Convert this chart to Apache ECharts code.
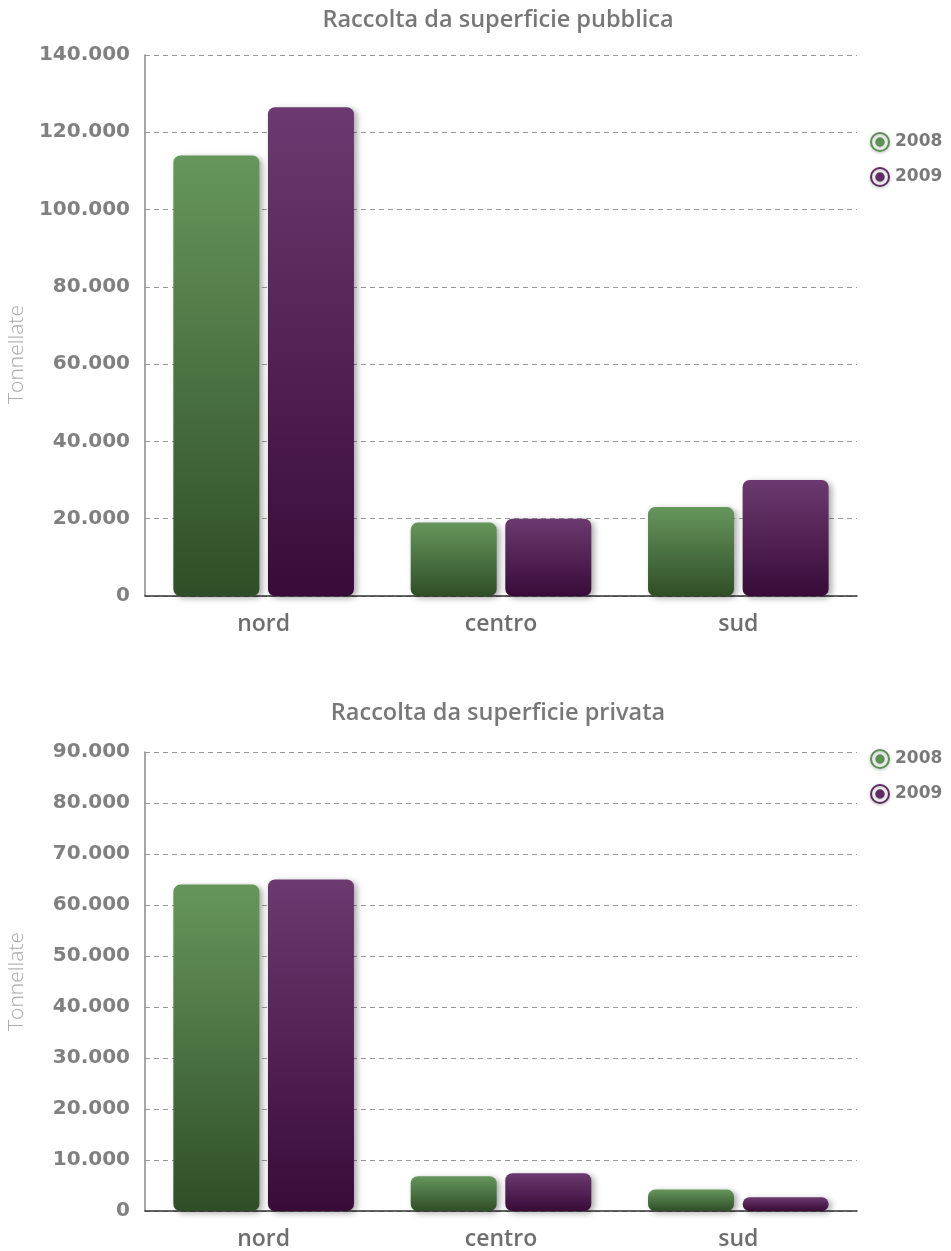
<!DOCTYPE html>
<html>
<head>
<meta charset="utf-8">
<script src="https://cdn.jsdelivr.net/npm/echarts@6/dist/echarts.min.js"></script>
<style>
  html, body { margin: 0; padding: 0; background: #fff; }
  #chart { width: 951px; height: 1251px; }
</style>
</head>
<body>
<div id="chart"></div>
<script>
// Raccolta (tonnellate) per area geografica
const categories = ['nord', 'centro', 'sud'];
const years = ['2008', '2009'];
const pubblica2008 = [114000, 19000, 23000];
const pubblica2009 = [126500, 20000, 30000];
const privata2008 = [64000, 6800, 4200];
const privata2009 = [65000, 7400, 2700];
const titles = ['Raccolta da superficie pubblica', 'Raccolta da superficie privata'];
const yMax = [140000, 90000];
const yStep = [20000, 10000];

const FONT = "'Open Sans', 'DejaVu Sans', sans-serif";
const WIDE = "'DejaVu Sans', sans-serif";
const GREEN = ['#66965c', '#2f4e27'];
const PURPLE = ['#6b3a70', '#380b38'];
const LEGEND_COLORS = ['#5e9156', '#5f2d63'];

function grad(c) {
  return new echarts.graphic.LinearGradient(0, 0, 0, 1, [
    { offset: 0, color: c[0] },
    { offset: 1, color: c[1] }
  ]);
}

function fmt(v) {
  return String(v).replace(/\B(?=(\d{3})+(?!\d))/g, '.');
}

// ring-and-dot legend marker
const ringIcon = 'path://M10,0A10,10,0,1,1,10,20A10,10,0,1,1,10,0Z' +
  'M10,2A8,8,0,1,0,10,18A8,8,0,1,0,10,2Z' +
  'M10,5.3A4.7,4.7,0,1,1,10,14.7A4.7,4.7,0,1,1,10,5.3Z';

const grids = [
  { left: 145, right: 94, top: 55, height: 541, outerBoundsMode: 'none', containLabel: false },
  { left: 145, right: 94, top: 752, height: 459, outerBoundsMode: 'none', containLabel: false }
];

function xAxis(i) {
  return {
    type: 'category', gridIndex: i, data: categories,
    axisLine: { lineStyle: { color: '#333', width: 1.5 } },
    axisTick: { inside: true, length: 11, lineStyle: { color: '#999' } },
    axisLabel: { color: '#6e6e6e', fontFamily: FONT, fontSize: 23, fontWeight: 600, margin: 17 }
  };
}

function yAxis(i, namePad) {
  return {
    type: 'value', gridIndex: i, min: 0, max: yMax[i], interval: yStep[i],
    name: 'Tonnellate', nameLocation: 'middle', nameGap: 117,
    nameTextStyle: { color: '#aaa', fontFamily: FONT, fontSize: 21, fontWeight: 300, padding: namePad },
    axisLine: { show: true, lineStyle: { color: '#888', width: 1.5 } },
    axisTick: { show: false },
    axisLabel: { color: '#808080', fontFamily: WIDE, fontSize: 20, fontWeight: 700, margin: 15,
      padding: [6, 0, 0, 0], formatter: fmt },
    splitLine: { lineStyle: { color: '#999', type: [5, 4], width: 1 } }
  };
}

function barSeries(name, data, colors, i) {
  return {
    type: 'bar', name: name, data: data,
    xAxisIndex: i, yAxisIndex: i,
    barWidth: 86, barGap: '10%',
    itemStyle: {
      color: grad(colors),
      borderRadius: 7,
      shadowColor: 'rgba(0,0,0,0.35)', shadowBlur: 6, shadowOffsetX: 3, shadowOffsetY: 2
    }
  };
}

function legend(top) {
  return {
    orient: 'vertical', left: 865, top: top, itemGap: 15, itemWidth: 20, itemHeight: 20, icon: ringIcon,
    textStyle: { color: '#7a7a7a', fontFamily: WIDE, fontSize: 17, fontWeight: 700 },
    data: years.map((y, k) => ({
      name: y,
      itemStyle: { color: LEGEND_COLORS[k], shadowColor: 'rgba(0,0,0,0.3)', shadowBlur: 3, shadowOffsetY: 1 }
    }))
  };
}

const titleStyle = { color: '#777', fontFamily: FONT, fontSize: 23.5, fontWeight: 600 };

const option = {
  backgroundColor: '#fff',
  animation: false,
  title: [
    { text: titles[0], left: 493, top: 3, textAlign: 'center', textStyle: titleStyle },
    { text: titles[1], left: 493, top: 696, textAlign: 'center', textStyle: titleStyle }
  ],
  legend: [legend(127), legend(744)],
  grid: grids,
  xAxis: [xAxis(0), xAxis(1)],
  yAxis: [yAxis(0, [0, 58, 0, 0]), yAxis(1, [0, 0, 0, 0])],
  series: [
    barSeries(years[0], pubblica2008, GREEN, 0),
    barSeries(years[1], pubblica2009, PURPLE, 0),
    barSeries(years[0], privata2008, GREEN, 1),
    barSeries(years[1], privata2009, PURPLE, 1)
  ]
};

echarts.init(document.getElementById('chart')).setOption(option);
</script>
</body>
</html>
